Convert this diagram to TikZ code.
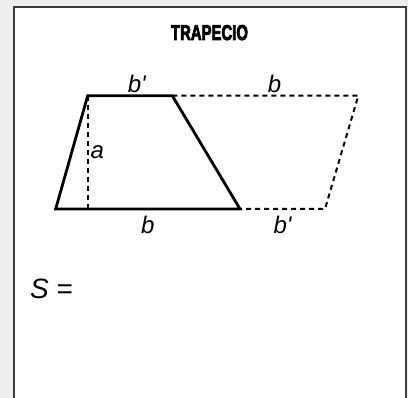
\documentclass[tikz,border=0pt]{standalone}
\usepackage{fontspec}
\setmainfont{Liberation Sans}
\newfontfamily\headfont{Liberation Sans}[BoldFeatures={FakeBold=4}]
\usetikzlibrary{positioning}
\definecolor{pagebg}{HTML}{EEEEEE}
\definecolor{framegray}{HTML}{3C3C3C}
\newcommand{\bprime}{b\textquotesingle}
\tikzset{
  sheet/.style={draw=framegray, line width=2pt, fill=white},
  edge/.style={draw=black, line width=2.8pt},
  aux/.style={draw=black, line width=2pt, dash pattern=on 5pt off 4pt},
  lbl/.style={font=\fontsize{24}{24}\selectfont\itshape, inner sep=3pt},
  heading/.style={font=\headfont\bfseries, inner sep=0pt},
  formula/.style={font=\fontsize{28}{28}\selectfont, inner sep=0pt},
}
\begin{document}
\begin{tikzpicture}[x=1pt, y=-1pt]
  \useasboundingbox (0,0) rectangle (408,398);
  \fill[pagebg] (0,0) rectangle (408,398);
  \path[sheet] (14,7) rectangle (406,412);

  % vertices
  \coordinate (A) at (55.7,209);
  \coordinate (B) at (240,209);
  \coordinate (C) at (172.3,95.7);
  \coordinate (D) at (87.7,95.7);
  \coordinate (H) at (87.7,209);
  \coordinate (E) at (358.3,95.7);
  \coordinate (F) at (325,209);

  \node[heading, anchor=base] (title) at (209.5,40) {\resizebox{77pt}{15pt}{TRAPECIO}};

  % copy of the trapezoid, turned round
  \draw[aux] (D) -- node[lbl, right, inner sep=2pt] {a} (H);
  \draw[aux] (C) -- node[lbl, above, pos=0.55, inner sep=2pt] {b} (E) -- (F)
                 -- node[lbl, below=3pt] {\bprime} (B);

  % trapezoid
  \draw[edge] (A) -- node[lbl, below=3pt] {b} (B) -- (C)
              -- node[lbl, above, pos=0.42, inner sep=2pt] {\bprime} (D) -- cycle;

  \node[formula, anchor=base west] (area) at (30,299) {\textit{S} =};
\end{tikzpicture}
\end{document}
